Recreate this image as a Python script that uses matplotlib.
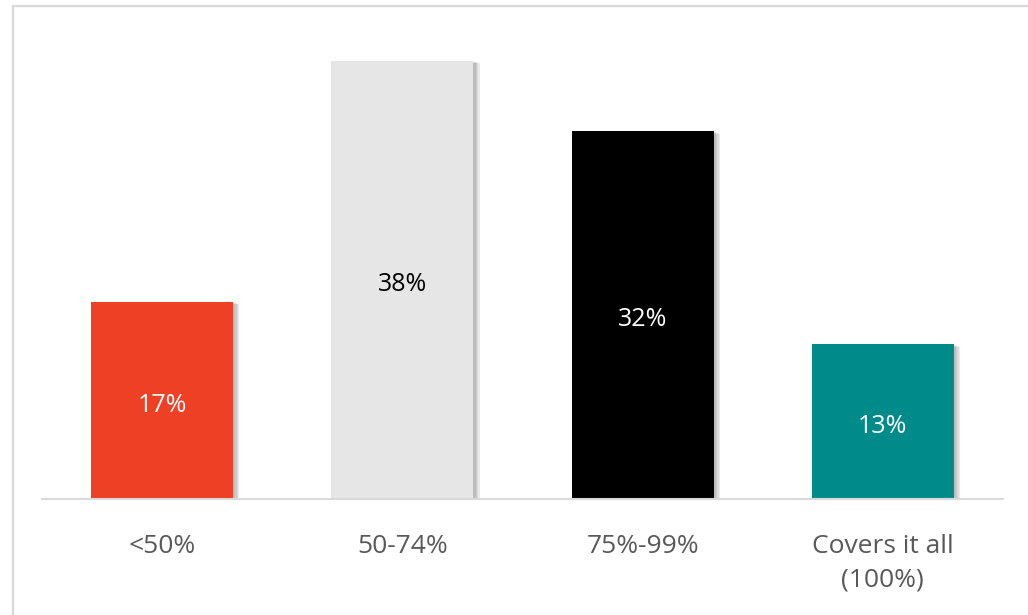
import matplotlib.pyplot as plt
import matplotlib.patheffects as pe
from matplotlib.patches import Rectangle

categories = ['<50%', '50-74%', '75%-99%', 'Covers it all\n(100%)']
values = [17.1, 38.0, 31.9, 13.4]
bar_colors = ['#EE4024', '#E6E6E6', '#000000', '#008B8B']
label_colors = ['white', 'black', 'white', 'white']

plt.rcParams['font.family'] = ['Open Sans', 'DejaVu Sans']

fig = plt.figure(figsize=(10.28, 6.15), dpi=100)
ax = fig.add_axes([42 / 1028, 1 - 499 / 615, 961 / 1028, 40 * 11.53 / 615])

# border around the chart area
fig.patches.append(Rectangle((13 / 1028, -0.05), 1.1, 1 - 6 / 615 + 0.05,
                             transform=fig.transFigure, fill=False,
                             edgecolor='#d9d9d9', linewidth=1.6))

x = list(range(len(values)))
bars = ax.bar(x, values, width=0.592, color=bar_colors, zorder=2)
# soft shadow: a few stacked offsets
shadow = [pe.SimplePatchShadow(offset=(o, -o * 0.4), shadow_rgbFace='#606060', alpha=0.12)
          for o in (4.5, 3.5, 2.5, 1.5)]
for b in bars:
    b.set_path_effects(shadow + [pe.Normal()])

for xi, v, c in zip(x, values, label_colors):
    ax.annotate(f'{round(v)}%', (xi, v / 2), xytext=(0, -3.5), textcoords='offset points',
                ha='center', va='center', color=c, fontsize=18, zorder=3)

ax.set_xlim(-0.5, 3.5)
ax.set_ylim(0, 40)
ax.set_yticks([])
ax.set_xticks(x)
ax.set_xticklabels(categories, fontsize=19, color='#595959', linespacing=1.45)
ax.tick_params(axis='x', length=0, pad=25.5)
for s in ['top', 'right', 'left']:
    ax.spines[s].set_visible(False)
ax.spines['bottom'].set_color('#d9d9d9')
ax.spines['bottom'].set_linewidth(1.5)

fig.savefig('out.png', dpi=100)
